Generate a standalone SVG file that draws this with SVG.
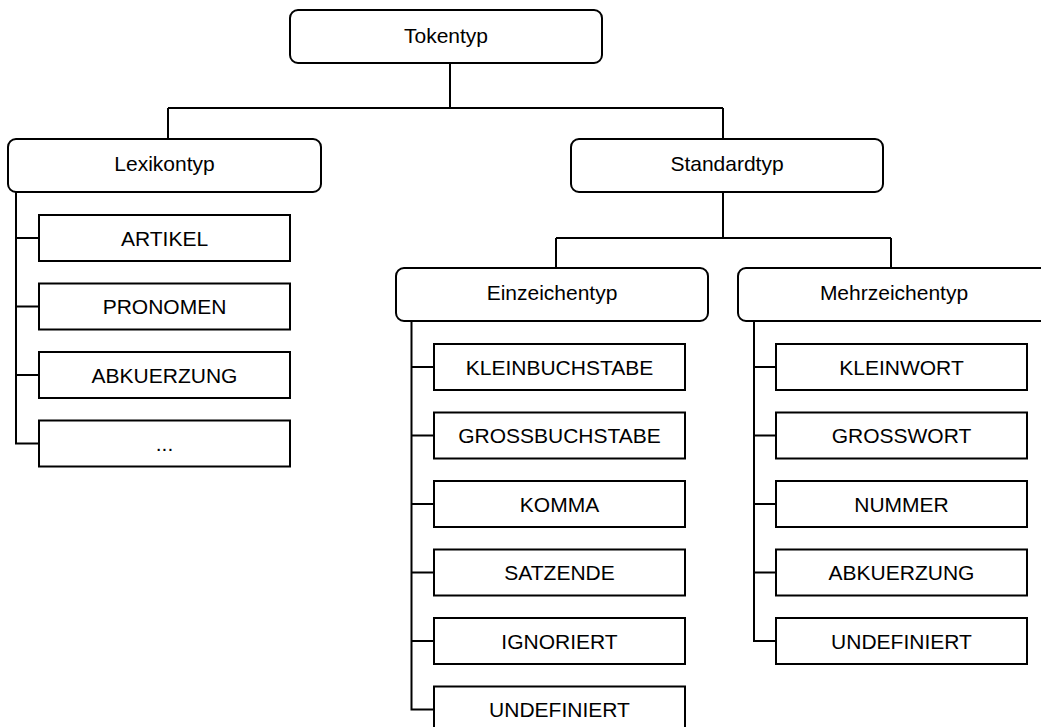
<svg xmlns="http://www.w3.org/2000/svg" width="1041" height="727" viewBox="0 0 1041 727">
  <style>
    .box { fill: #ffffff; stroke: #000000; stroke-width: 2; }
    .lbl { font-family: "Liberation Sans", Arial, sans-serif; font-size: 21px; fill: #000000; text-anchor: middle; }
    #connectors path { fill: none; stroke: #000000; stroke-width: 2; }
  </style>
  <rect width="1041" height="727" fill="#ffffff"/>

  <!-- tree connectors -->
  <g id="connectors">
    <path d="M450 63 V108 M168 108 H723 M168 108 V139 M723 108 V139"/>
    <path d="M723 192 V238 M556 238 H891 M556 238 V268 M891 238 V268"/>
    <!-- Lexikontyp children -->
    <path d="M16 192 V443.5 H39 M16 238 H39 M16 306.5 H39 M16 375 H39"/>
    <!-- Einzeichentyp children -->
    <path d="M411.5 321 V709.5 H434 M411.5 367 H434 M411.5 435.5 H434 M411.5 504 H434 M411.5 572.5 H434 M411.5 641 H434"/>
    <!-- Mehrzeichentyp children -->
    <path d="M754 321 V641 H776 M754 367 H776 M754 435.5 H776 M754 504 H776 M754 572.5 H776"/>
  </g>

  <!-- category nodes -->
  <g id="tokentyp">
    <rect class="box" x="290" y="10" width="312" height="53" rx="8"/>
    <text class="lbl" x="446" y="42.5">Tokentyp</text>
  </g>
  <g id="lexikontyp">
    <rect class="box" x="8" y="139" width="313" height="53" rx="8"/>
    <text class="lbl" x="164.5" y="171">Lexikontyp</text>
  </g>
  <g id="standardtyp">
    <rect class="box" x="571" y="139" width="312" height="53" rx="8"/>
    <text class="lbl" x="727" y="171">Standardtyp</text>
  </g>
  <g id="einzeichentyp">
    <rect class="box" x="396" y="268" width="312" height="53" rx="8"/>
    <text class="lbl" x="552" y="300">Einzeichentyp</text>
  </g>
  <g id="mehrzeichentyp">
    <rect class="box" x="738" y="268" width="312" height="53" rx="8"/>
    <text class="lbl" x="894" y="300">Mehrzeichentyp</text>
  </g>

  <!-- Lexikontyp values -->
  <g id="lex-artikel">
    <rect class="box" x="39" y="215" width="251" height="46"/>
    <text class="lbl" x="164.5" y="245.5">ARTIKEL</text>
  </g>
  <g id="lex-pronomen">
    <rect class="box" x="39" y="283.5" width="251" height="46"/>
    <text class="lbl" x="164.5" y="314">PRONOMEN</text>
  </g>
  <g id="lex-abkuerzung">
    <rect class="box" x="39" y="352" width="251" height="46"/>
    <text class="lbl" x="164.5" y="382.5">ABKUERZUNG</text>
  </g>
  <g id="lex-more">
    <rect class="box" x="39" y="420.5" width="251" height="46"/>
    <text class="lbl" x="164.5" y="451">...</text>
  </g>

  <!-- Einzeichentyp values -->
  <g id="ez-kleinbuchstabe">
    <rect class="box" x="434" y="344" width="251" height="46"/>
    <text class="lbl" x="559.5" y="374.5">KLEINBUCHSTABE</text>
  </g>
  <g id="ez-grossbuchstabe">
    <rect class="box" x="434" y="412.5" width="251" height="46"/>
    <text class="lbl" x="559.5" y="443">GROSSBUCHSTABE</text>
  </g>
  <g id="ez-komma">
    <rect class="box" x="434" y="481" width="251" height="46"/>
    <text class="lbl" x="559.5" y="511.5">KOMMA</text>
  </g>
  <g id="ez-satzende">
    <rect class="box" x="434" y="549.5" width="251" height="46"/>
    <text class="lbl" x="559.5" y="580">SATZENDE</text>
  </g>
  <g id="ez-ignoriert">
    <rect class="box" x="434" y="618" width="251" height="46"/>
    <text class="lbl" x="559.5" y="648.5">IGNORIERT</text>
  </g>
  <g id="ez-undefiniert">
    <rect class="box" x="434" y="686.5" width="251" height="46"/>
    <text class="lbl" x="559.5" y="717">UNDEFINIERT</text>
  </g>

  <!-- Mehrzeichentyp values -->
  <g id="mz-kleinwort">
    <rect class="box" x="776" y="344" width="251" height="46"/>
    <text class="lbl" x="901.5" y="374.5">KLEINWORT</text>
  </g>
  <g id="mz-grosswort">
    <rect class="box" x="776" y="412.5" width="251" height="46"/>
    <text class="lbl" x="901.5" y="443">GROSSWORT</text>
  </g>
  <g id="mz-nummer">
    <rect class="box" x="776" y="481" width="251" height="46"/>
    <text class="lbl" x="901.5" y="511.5">NUMMER</text>
  </g>
  <g id="mz-abkuerzung">
    <rect class="box" x="776" y="549.5" width="251" height="46"/>
    <text class="lbl" x="901.5" y="580">ABKUERZUNG</text>
  </g>
  <g id="mz-undefiniert">
    <rect class="box" x="776" y="618" width="251" height="46"/>
    <text class="lbl" x="901.5" y="648.5">UNDEFINIERT</text>
  </g>
</svg>
